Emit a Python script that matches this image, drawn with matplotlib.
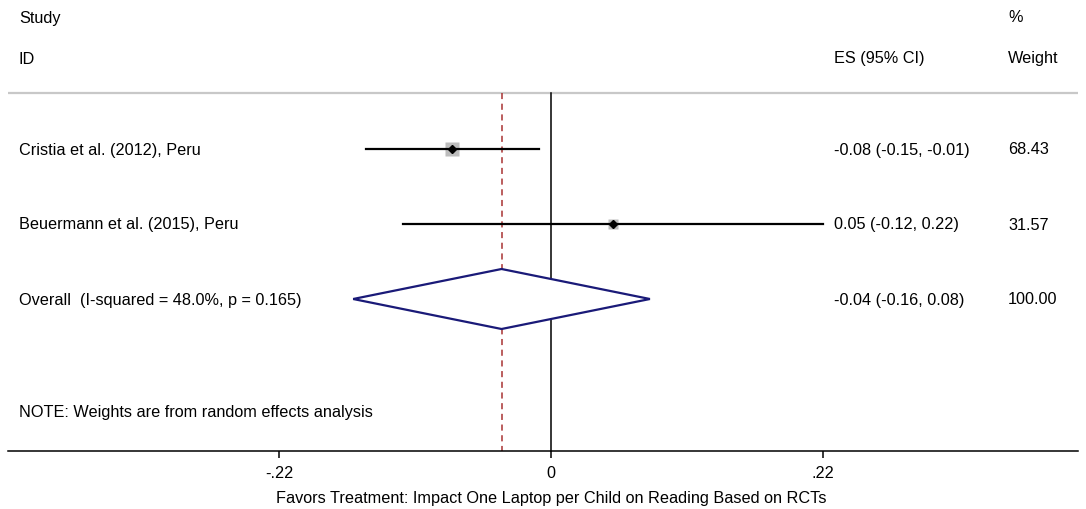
import matplotlib

matplotlib.use("Agg")

import matplotlib.pyplot as plt
import numpy as np

plt.rcParams["font.family"] = ["Liberation Sans", "DejaVu Sans"]

studies = ["Cristia et al. (2012), Peru", "Beuermann et al. (2015), Peru"]
es = np.array([-0.08, 0.05])
lo = np.array([-0.15, -0.12])
hi = np.array([-0.01, 0.22])
weights = np.array([68.43, 31.57])

overall_label = "Overall  (I-squared = 48.0%, p = 0.165)"
overall_es, overall_lo, overall_hi = -0.04, -0.16, 0.08
overall_weight = 100.00

xticks = [-0.22, 0, 0.22]
xtick_labels = ["-.22", "0", ".22"]
note = "NOTE: Weights are from random effects analysis"
xlabel = "Favors Treatment: Impact One Laptop per Child on Reading Based on RCTs"

fig = plt.figure(figsize=(10.86, 5.10), dpi=100)
ax = fig.add_axes([0, 0, 1, 1])
# px -> data: 1236.36 px per unit, zero at x=551; rows 75 px apart, row 1 at y=150
ax.set_xlim(-551 / 1236.36, 535 / 1236.36)
ax.set_ylim(5.8, -1)

top_y = 1 + (94 - 150) / 75
axis_y = 1 + (452 - 150) / 75
x_left = -543 / 1236.36
x_right = 527 / 1236.36

fs = 11.7
txt = dict(fontsize=fs, va="center", color="black")
col_label = 19 / 1086
col_es = 834 / 1086
col_w = 1008 / 1086
tr = ax.get_yaxis_transform()  # x in axes coords, y in data

# headers
ax.text(col_label, 1 + (18 - 150) / 75, "Study", transform=tr, **txt)
ax.text(col_label, 1 + (59 - 150) / 75, "ID", transform=tr, **txt)
ax.text(col_es, 1 + (59 - 150) / 75, "ES (95% CI)", transform=tr, **txt)
ax.text(col_w, 1 + (18 - 150) / 75, "%", transform=tr, **txt)
ax.text(col_w, 1 + (59 - 150) / 75, "Weight", transform=tr, **txt)

ax.plot([x_left, x_right], [top_y, top_y], color="#c8c8c8", lw=1.6, solid_capstyle="butt")

# reference lines
ax.plot([0, 0], [top_y, axis_y], color="black", lw=1.1)
ax.plot([overall_es, overall_es], [top_y, axis_y], color="#a83232", lw=1.1, ls=(0, (4, 3)))

rows = np.arange(1, len(studies) + 1)
side = 9.6 * np.sqrt(weights / weights.max())
for r, name, e, l, h, w, s in zip(rows, studies, es, lo, hi, weights, side):
    ax.plot([l, h], [r, r], color="black", lw=1.6, zorder=3)
    ax.plot(e, r, marker="s", ms=s, color="#bdbdbd", mec="none", zorder=2)
    ax.plot(e, r, marker="D", ms=3.6, color="black", zorder=4)
    ax.text(col_label, r, name, transform=tr, **txt)
    ax.text(col_es, r, f"{e:.2f} ({l:.2f}, {h:.2f})", transform=tr, **txt)
    ax.text(col_w, r, f"{w:.2f}", transform=tr, **txt)

orow = len(studies) + 1
dh = 30 / 75
ax.fill(
    [overall_lo, overall_es, overall_hi, overall_es, overall_lo],
    [orow, orow - dh, orow, orow + dh, orow],
    facecolor="white", edgecolor="#1a1a78", lw=1.6, zorder=3,
)
ax.text(col_label, orow, overall_label, transform=tr, **txt)
ax.text(col_es, orow, f"{overall_es:.2f} ({overall_lo:.2f}, {overall_hi:.2f})", transform=tr, **txt)
ax.text(col_w, orow, f"{overall_weight:.2f}", transform=tr, **txt)

ax.text(col_label, 1 + (413 - 150) / 75, note, transform=tr, **txt)

# x axis
for side_name in ["top", "left", "right"]:
    ax.spines[side_name].set_visible(False)
ax.spines["bottom"].set_position(("data", axis_y))
ax.spines["bottom"].set_bounds(x_left, x_right)
ax.spines["bottom"].set_linewidth(1.1)
ax.set_xticks(xticks)
ax.set_xticklabels(xtick_labels, fontsize=fs)
ax.tick_params(axis="x", direction="out", length=5, width=1.1, pad=5)
ax.set_yticks([])
ax.text(551 / 1086, 1 + (498 - 150) / 75, xlabel, transform=tr, ha="center", va="center", fontsize=fs)

fig.savefig("out.png", dpi=100)
